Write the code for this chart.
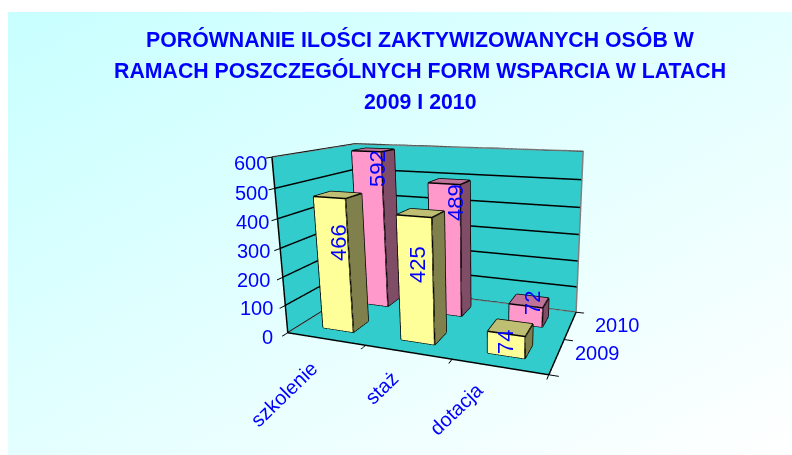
import numpy as np, plotly.graph_objects as go, urllib.parse

categories = ["szkolenie", "staż", "dotacja"]
series_names = ["2009", "2010"]
values_2009 = [466, 425, 74]
values_2010 = [592, 489, 72]
z_ticks = [0, 100, 200, 300, 400, 500, 600]
title_lines = ["PORÓWNANIE ILOŚCI ZAKTYWIZOWANYCH OSÓB W", "RAMACH POSZCZEGÓLNYCH FORM WSPARCIA W LATACH", "2009 I 2010"]

# pixel spots for the text (label centres / anchors)
ztick_right = [(275, 337), (275, 308), (272, 280), (272, 251), (271, 222), (270, 193), (269, 163)]
cat_spot = [(324, 354), (405, 364), (490, 376)]
series_spot = [(573, 353), (593, 325)]
label_spot = [[(338, 243), (417, 265), (505, 342)], [(377, 169), (455, 203), (532, 303)]]

W, H = 792, 455
EYE = np.array([1.588, -3.676, 1.080])
CEN = np.array([0.224, 0.377, 0.036])
ASP = np.array([1.974, 1.083, 1.307])
PX = 481.029
F = 1 / np.tan(np.pi / 8) * H / 2
RANGES = np.array([3, 2, 600])

def proj(q):
    m = (np.array(q) / RANGES - .5) * ASP
    fw = CEN - EYE; fw = fw / np.linalg.norm(fw)
    r = np.cross(fw, [0, 0, 1]); r = r / np.linalg.norm(r)
    u = np.cross(r, fw)
    v = m - EYE
    d = v @ fw
    return PX + F * (v @ r) / d, H / 2 - F * (v @ u) / d

B = "#0000ff"
FONT = "Liberation Sans"

def note(q, spot, text, size=20, **kw):
    px, py = proj(q)
    return dict(x=q[0], y=q[1], z=q[2], text=text, showarrow=False, xshift=spot[0] - px, yshift=py - spot[1],
                font=dict(size=size, color=B, family=FONT), **kw)

fig = go.Figure()
shades = [("#ffff99", "#bfbf73", "#80804d"), ("#ff99cc", "#bf7399", "#804d66")]
lx, ly, lz = [], [], []
for si, vals in enumerate([values_2009, values_2010]):
    for ci, v in enumerate(vals):
        x0, x1 = ci + .3, ci + .7
        y0, y1 = si + .3, si + .7
        X = [x0, x1, x1, x0, x0, x1, x1, x0]; Y = [y0, y0, y1, y1, y0, y0, y1, y1]; Z = [0, 0, 0, 0, v, v, v, v]
        I = [0, 0, 4, 4, 1, 1, 0, 0, 3, 3, 0, 0]; J = [1, 5, 5, 6, 2, 6, 3, 7, 2, 6, 1, 2]; K = [5, 4, 6, 7, 6, 5, 7, 4, 6, 7, 2, 3]
        fr, tp, sd = shades[si]
        fc = [fr, fr, tp, tp, sd, sd, sd, sd, sd, sd, tp, tp]
        fig.add_trace(go.Mesh3d(x=X, y=Y, z=Z, i=I, j=J, k=K, facecolor=fc, flatshading=True, name=series_names[si],
                                lighting=dict(ambient=1, diffuse=0, specular=0, fresnel=0), hoverinfo="skip", showscale=False))
        for a, b in [(0, 1), (1, 2), (2, 3), (3, 0), (4, 5), (5, 6), (6, 7), (7, 4), (0, 4), (1, 5), (2, 6), (3, 7)]:
            lx += [X[a], X[b], None]; ly += [Y[a], Y[b], None]; lz += [Z[a], Z[b], None]
fig.add_trace(go.Scatter3d(x=lx, y=ly, z=lz, mode="lines", line=dict(color="black", width=3), hoverinfo="skip"))
# wall outline
xr, yr, zr = RANGES
fig.add_trace(go.Scatter3d(x=[0, 0, xr, xr, None, 0, 0, xr], y=[0, yr, yr, yr, None, 0, yr, yr], z=[zr, zr, zr, 0, None, 0, 0, 0],
                           mode="lines", line=dict(color="#808080", width=3), hoverinfo="skip"))

ann = []
for t, s in zip(z_ticks, ztick_right):
    ann.append(note((0, 0, t), s, str(t), xanchor="right", yanchor="middle"))
for i, c in enumerate(categories):
    ann.append(note((i + .5, 0, 0), cat_spot[i], c, size=20, textangle=-44, xanchor="right", yanchor="top"))
for i, s in enumerate(series_names):
    ann.append(note((3, i + .5, 0), series_spot[i], s, xanchor="left", yanchor="middle"))
for si, vals in enumerate([values_2009, values_2010]):
    for ci, v in enumerate(vals):
        ann.append(note((ci + .5, si + .3, v), label_spot[si][ci], str(v), size=22, textangle=-90, xanchor="center", yanchor="middle"))

axis = dict(showbackground=True, backgroundcolor="#33cccc", showgrid=False, showticklabels=False, title="", zeroline=False,
            showline=True, linecolor="black", linewidth=3, ticks="outside", ticklen=7, tickwidth=2, tickcolor="black", showspikes=False)
svg = ("<svg xmlns='http://www.w3.org/2000/svg' width='784' height='443'><defs><linearGradient id='g' x1='0' y1='0' x2='1' y2='1'>"
       "<stop offset='0' stop-color='#c8ffff'/><stop offset='1' stop-color='#ffffff'/></linearGradient></defs><rect width='784' height='443' fill='url(#g)'/></svg>")
fig.update_layout(
    width=W, height=H, autosize=False, margin=dict(l=0, r=0, t=0, b=0), paper_bgcolor="white", showlegend=False,
    images=[dict(source="data:image/svg+xml," + urllib.parse.quote(svg), xref="paper", yref="paper", x=8 / W, y=1 - 12 / H,
                 sizex=784 / W, sizey=443 / H, sizing="stretch", layer="below", xanchor="left", yanchor="top")],
    scene=dict(domain=dict(x=[(2 * PX - W) / W, 1], y=[0, 1]), bgcolor="rgba(0,0,0,0)", annotations=ann,
               xaxis=dict(axis, range=[0, xr], tickvals=[0, 1, 2, 3]),
               yaxis=dict(axis, range=[0, yr], tickvals=[0, 1, 2]),
               zaxis=dict(axis, range=[0, zr], showgrid=True, gridcolor="black", gridwidth=3, tickvals=z_ticks),
               aspectmode="manual", aspectratio=dict(x=ASP[0], y=ASP[1], z=ASP[2]),
               camera=dict(eye=dict(x=EYE[0], y=EYE[1], z=EYE[2]), center=dict(x=CEN[0], y=CEN[1], z=CEN[2]), up=dict(x=0, y=0, z=1))),
    annotations=[dict(x=420 / W, y=1 - (39 + 31.5 * i) / H, xref="paper", yref="paper", showarrow=False, yanchor="middle", xanchor="center",
                      text="<b>" + l + "</b>", font=dict(size=21.3, color=B, family=FONT)) for i, l in enumerate(title_lines)])
fig.write_html("out.html", config=dict(displayModeBar=False),
               post_script="document.body.style.margin='0';document.documentElement.style.overflow='hidden';")
